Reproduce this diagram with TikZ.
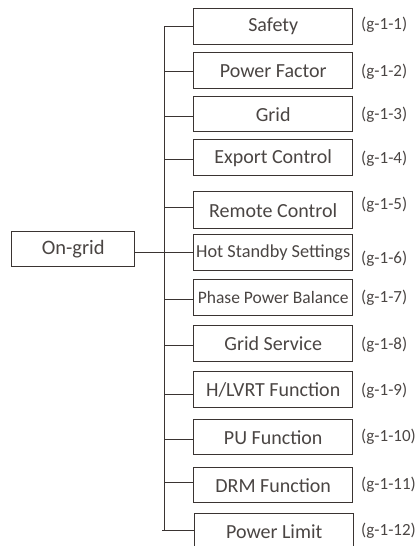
\documentclass[tikz,border=0pt]{standalone}
\usepackage{fontspec}
\setmainfont{Carlito}
\definecolor{linec}{HTML}{3A3432}
\definecolor{textc}{HTML}{4A4543}
\begin{document}
\begin{tikzpicture}[x=1pt,y=-1pt,
  item/.style={draw=linec,line width=1.4pt,minimum width=159pt,minimum height=36pt,inner sep=0pt,text=textc,font=\fontsize{20}{20}\selectfont,anchor=north west},
  tag/.style={text=textc,font=\fontsize{17}{17}\selectfont,anchor=west,inner sep=0pt},
  conn/.style={draw=linec,line width=0.9pt}]
\useasboundingbox (0,0) rectangle (419,546);
% main node
\node[draw=linec,line width=1.4pt,minimum width=123pt,minimum height=35pt,inner sep=0pt,text=textc,font=\fontsize{20.5}{20.5}\selectfont,anchor=north west] (on) at (11,231) {On-grid};
% items
\node[item] (i1) at (193,8) {Safety};
\node[item] (i2) at (193,52) {Power Factor};
\node[item,minimum height=35pt] (i3) at (193,96) {Grid};
\node[item] (i4) at (193,139) {Export Control};
\node[item,minimum height=37pt] (i5) at (193,191) {\raisebox{-3pt}{Remote Control}};
\node[item] (i6) at (193,234) {\fontsize{18.3}{18.3}\selectfont Hot Standby Settings};
\node[item] (i7) at (193,279) {\fontsize{17.5}{17.5}\selectfont Phase Power Balance};
\node[item] (i8) at (193,325) {Grid Service};
\node[item] (i9) at (193,371) {H/LVRT Function};
\node[item,minimum height=35pt] (i10) at (193,419) {PU Function};
\node[item,minimum height=35pt] (i11) at (193,467) {DRM Function};
\node[item] (i12) at (194,513) {\raisebox{-6pt}{Power Limit}};
% tags
\node[tag] (t1) at (361,25) {(g-1-1)};
\node[tag] (t2) at (361,72) {(g-1-2)};
\node[tag] (t3) at (361,115) {(g-1-3)};
\node[tag] (t4) at (361,159) {(g-1-4)};
\node[tag] (t5) at (361,205) {(g-1-5)};
\node[tag] (t6) at (361,259) {(g-1-6)};
\node[tag] (t7) at (361,298) {(g-1-7)};
\node[tag] (t8) at (361,345) {(g-1-8)};
\node[tag] (t9) at (361,391) {(g-1-9)};
\node[tag] (t10) at (361,437) {(g-1-10)};
\node[tag] (t11) at (361,485) {(g-1-11)};
\node[tag] (t12) at (361,531) {(g-1-12)};
% branch points
\coordinate (b1) at (164,26);
\coordinate (b2) at (164,71);
\coordinate (b3) at (164,116);
\coordinate (b4) at (164,159);
\coordinate (b5) at (164,207);
\coordinate (b6) at (164,252);
\coordinate (b7) at (164,299);
\coordinate (b8) at (164,345);
\coordinate (b9) at (164,394);
\coordinate (b10) at (164,439);
\coordinate (b11) at (164,482);
\coordinate (b12) at (164,530);
\coordinate (b12s) at (162,530);
\draw[conn] (b1) -- (b12);
\foreach \k in {1,...,11} {\draw[conn] (b\k) -- (i\k.west |- b\k);}
\draw[conn] (b12s) -- (i12.west |- b12s);
\draw[conn] (on.east |- b6) -- (b6);
\end{tikzpicture}
\end{document}
